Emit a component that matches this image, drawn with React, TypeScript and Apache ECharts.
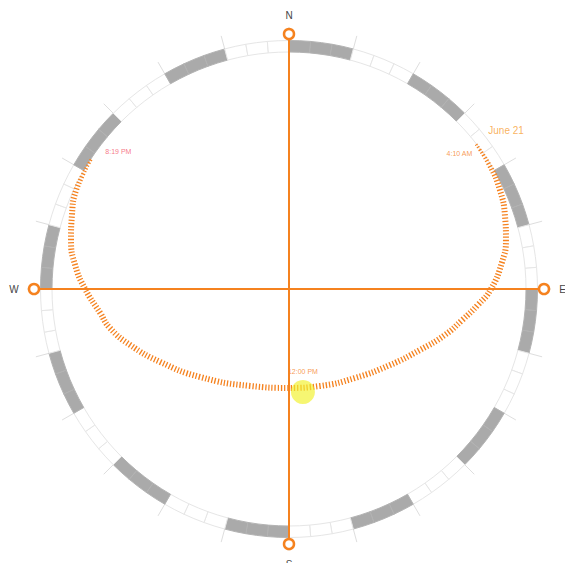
import React, { useEffect, useRef } from "react";
import * as echarts from "echarts";

// Sun path on June 21: azimuth (deg clockwise from north) and zenith distance (deg)
const pathAzimuth = [52.3, 58.3, 64.9, 71.1, 77.3, 82.8, 90, 94.8, 100.2, 106.4, 115, 127, 143.4, 162.3, 180, 201.9, 225.3, 240.5, 250.6, 257.7, 262.8, 270, 276.4, 282.7, 288.8, 295, 303.4];
const pathZenith = [90, 89.3, 88.1, 86.3, 84.1, 81.2, 76.4, 71.7, 66.5, 61.5, 54.6, 47.8, 41.9, 38.5, 37.4, 39.5, 47.3, 56, 63.7, 69.3, 72, 77.1, 81.4, 84.5, 86.7, 88.8, 90];

// Current sun position
const sunAzimuth = 172.3;
const sunZenith = 39.3;
const sunLabel = "12:00 PM";

const dateLabel = "June 21";
const sunriseLabel = "4:10 AM";
const sunsetLabel = "8:19 PM";

// Compass
const compassLabels = ["N", "E", "S", "W"];
const compassAngles = [0, 90, 180, 270];

// Hour ring: 72 cells of 5 degrees
const ringCellCount = 72;
const cellsPerBlock = 3;

const ORANGE = "#f5821f";

export default function App() {
  const ref = useRef<HTMLDivElement>(null);

  useEffect(() => {
    if (!ref.current) return;
    const chart = echarts.init(ref.current, undefined, { renderer: "svg" });
    const center = [289, 289];

    const pathData = pathAzimuth.map((a, i) => [pathZenith[i], a]);
    const ringData = Array.from({ length: ringCellCount }, (_, i) => {
      const gray = Math.floor(i / cellsPerBlock) % 2 === 0;
      return {
        value: 1,
        itemStyle: gray
          ? { color: "#aaaaaa", borderColor: "#b3b3b3", borderWidth: 1 }
          : { color: "#ffffff", borderColor: "#e6e6e6", borderWidth: 1 },
      };
    });

    const hiddenAngle = (idx: number, extra: any = {}) => ({
      polarIndex: idx,
      type: "value",
      min: 0,
      max: 360,
      startAngle: 90,
      clockwise: true,
      axisLine: { show: false },
      axisLabel: { show: false },
      splitLine: { show: false },
      axisTick: { show: false },
      ...extra,
    });
    const hiddenRadius = (idx: number, max: number) => ({
      polarIndex: idx,
      type: "value",
      min: 0,
      max,
      show: false,
    });

    const compassPos: any[] = ["top", "right", "bottom", "left"];
    const compassItem = (k: number) => ({
      value: [1, compassAngles[k]],
      label: {
        show: true,
        formatter: compassLabels[k],
        position: compassPos[k],
        distance: k === 0 ? 7 : 9,
        fontSize: 10,
        color: "#444",
        fontFamily: "Liberation Sans",
      },
    });

    const compassSeries = (a: number, b: number) => ({
      type: "line",
      coordinateSystem: "polar",
      polarIndex: 2,
      clip: false,
      silent: true,
      data: [compassItem(a), compassItem(b)],
      symbol: "circle",
      symbolSize: 10,
      itemStyle: { color: "#ffffff", borderColor: ORANGE, borderWidth: 2.5 },
      lineStyle: { color: ORANGE, width: 2 },
      z: 5,
    });

    const small = { fontFamily: "Liberation Sans", fontSize: 7 };

    chart.setOption({
      animation: false,
      polar: [
        { center, radius: 238 },
        { center, radius: 262 },
        { center, radius: 255 },
      ],
      angleAxis: [
        hiddenAngle(0),
        hiddenAngle(1, {
          interval: 15,
          axisTick: { show: true, inside: true, length: 24, lineStyle: { color: "#dedede", width: 1 } },
          z: 0,
        }),
        hiddenAngle(2),
      ],
      radiusAxis: [hiddenRadius(0, 90), hiddenRadius(1, 1), hiddenRadius(2, 1)],
      series: [
        {
          type: "pie",
          center,
          radius: [237, 248.5],
          startAngle: 90,
          clockwise: true,
          silent: true,
          label: { show: false },
          labelLine: { show: false },
          data: ringData,
          z: 1,
        },
        compassSeries(0, 2),
        compassSeries(3, 1),
        {
          type: "line",
          coordinateSystem: "polar",
          polarIndex: 0,
          clip: false,
          silent: true,
          smooth: true,
          symbol: "none",
          data: pathData,
          lineStyle: { color: ORANGE, width: 6, type: [1.3, 1.9], cap: "butt" },
          z: 6,
        },
        {
          type: "scatter",
          coordinateSystem: "polar",
          polarIndex: 0,
          silent: true,
          symbolSize: 24,
          data: [[sunZenith, sunAzimuth]],
          itemStyle: { color: "rgba(242,242,40,0.82)" },
          label: {
            show: true,
            formatter: sunLabel,
            position: "top",
            distance: 5,
            color: ORANGE,
            ...small,
          },
          z: 7,
        },
        {
          type: "scatter",
          coordinateSystem: "polar",
          polarIndex: 0,
          silent: true,
          symbolSize: 0,
          data: [
            {
              value: [pathZenith[0], pathAzimuth[0]],
              label: { show: true, formatter: sunriseLabel, position: "left", distance: 5, offset: [0, 10], color: ORANGE, ...small },
            },
            {
              value: [pathZenith[0], pathAzimuth[0]],
              label: {
                show: true,
                formatter: dateLabel,
                position: "right",
                distance: 11,
                offset: [0, -13],
                color: "#f7a035",
                fontFamily: "Liberation Sans",
                fontSize: 10,
              },
            },
            {
              value: [pathZenith[pathZenith.length - 1], pathAzimuth[pathAzimuth.length - 1]],
              label: { show: true, formatter: sunsetLabel, position: "right", distance: 15, offset: [0, -6], color: "#f4566a", ...small },
            },
          ],
          z: 8,
        },
      ],
    });

    return () => chart.dispose();
  }, []);

  return (
    <div
      ref={ref}
      style={{ position: "fixed", left: 0, top: 0, width: 565, height: 563, background: "#fff" }}
    />
  );
}
